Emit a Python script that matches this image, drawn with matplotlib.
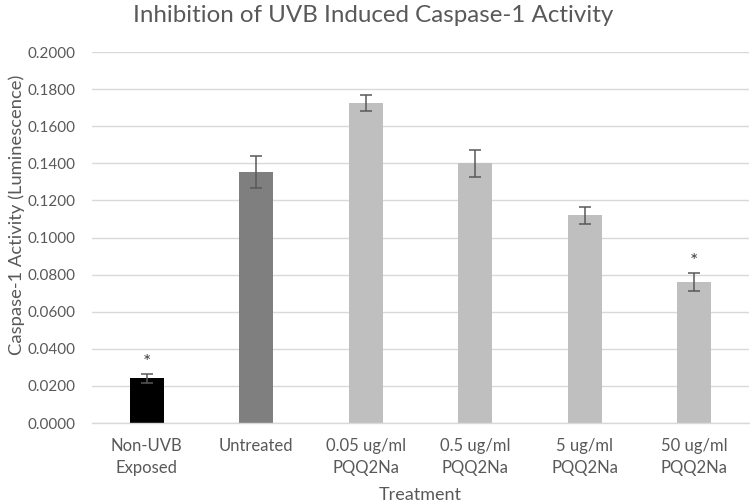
import numpy as np
import matplotlib
matplotlib.use("Agg")
import matplotlib.pyplot as plt

plt.rcParams['font.family'] = ['Lato', 'DejaVu Sans']

# data
categories = ["Non-UVB\nExposed", "Untreated", "0.05 ug/ml\nPQQ2Na",
              "0.5 ug/ml\nPQQ2Na", "5 ug/ml\nPQQ2Na", "50 ug/ml\nPQQ2Na"]
values = [0.0241, 0.1353, 0.1725, 0.1400, 0.1120, 0.0760]
errors = [0.0024, 0.0086, 0.0041, 0.0073, 0.0046, 0.0048]
significant = [True, False, False, False, False, True]
bar_colors = ["#000000", "#7f7f7f", "#bfbfbf", "#bfbfbf", "#bfbfbf", "#bfbfbf"]

text_color = "#595959"
grid_color = "#d9d9d9"

fig = plt.figure(figsize=(7.5, 5.03), dpi=100)
ax = fig.add_axes([0.1227, 0.159, 0.876, 0.7376])

x = np.arange(len(categories))
ax.bar(x, values, width=0.31, color=bar_colors, zorder=2)
ax.errorbar(x, values, yerr=errors, fmt="none", ecolor="#595959",
            elinewidth=1.1, capsize=4.5, capthick=1.1, zorder=3)

for xi, v, e, sig in zip(x, values, errors, significant):
    if sig:
        ax.text(xi, v + e + 0.0015, "*", ha="center", va="bottom",
                fontsize=14, color="#404040")

ax.set_xlim(-0.5, len(categories) - 0.5)
ax.set_ylim(0, 0.2)
ax.set_yticks(np.arange(0, 0.2001, 0.02))
ax.yaxis.set_major_formatter(matplotlib.ticker.FormatStrFormatter("%.4f"))
ax.set_xticks(x)
ax.set_xticklabels(categories, linespacing=1.45)

ax.grid(axis="y", color=grid_color, linewidth=1, zorder=0)
ax.set_axisbelow(True)
for side in ["left", "right", "top"]:
    ax.spines[side].set_visible(False)
ax.spines["bottom"].set_color(grid_color)
ax.spines["bottom"].set_linewidth(1)
ax.tick_params(axis="y", length=0, labelsize=11, labelcolor=text_color, pad=12)
ax.tick_params(axis="x", length=0, labelsize=12, labelcolor=text_color, pad=11)

fig.suptitle("Inhibition of UVB Induced Caspase-1 Activity", fontsize=17.4,
             color=text_color, x=0.497, y=0.99, va="top")
ax.set_xlabel("Treatment", fontsize=13, color=text_color, labelpad=8)
ax.set_ylabel("Caspase-1 Activity (Luminescence)", fontsize=13.2,
              color=text_color)
ax.yaxis.set_label_coords(-0.102, 0.56)

fig.savefig("out.png", dpi=100)
